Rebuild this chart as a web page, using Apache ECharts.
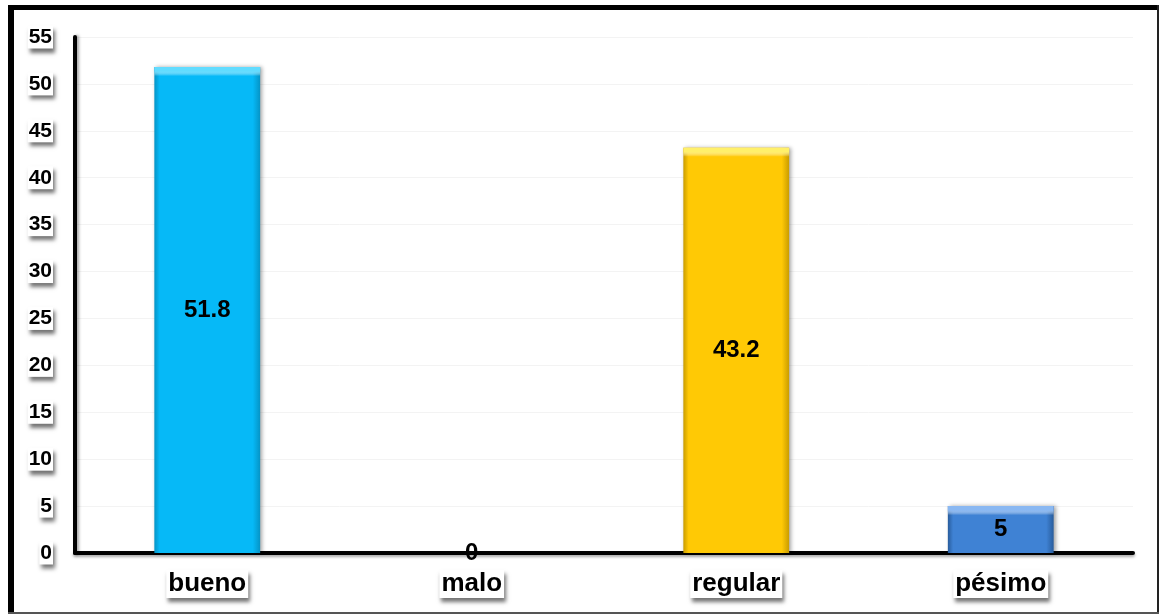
<!DOCTYPE html>
<html>
<head>
<meta charset="utf-8">
<script src="https://cdn.jsdelivr.net/npm/echarts@6/dist/echarts.min.js"></script>
<style>
  html, body { margin: 0; padding: 0; background: #ffffff; }
  #chart { width: 1161px; height: 615px; }
</style>
</head>
<body>
<div id="chart"></div>
<script>
// Survey result categories and their percentages
const categories = ['bueno', 'malo', 'regular', 'pésimo'];
const values = [51.8, 0, 43.2, 5];
const yTicks = [0, 5, 10, 15, 20, 25, 30, 35, 40, 45, 50, 55];

// Per-bar fills: [light edge, body, dark edge]
const barColors = [
  ['#62dcff', '#06b9f7', '#0594c6'],
  ['#9aa0a6', '#7f868c', '#5c6166'],
  ['#fff06a', '#ffc905', '#c99c00'],
  ['#8ab8f2', '#3f82d4', '#285c9c']
];

const Y_MAX = 55;
const PLOT_H = 516;          // grid height in px (615 - 37 - 62)
const BEVEL_PX = 9;          // thickness of the lit top edge

function barFill(c) {
  return {
    type: 'linear', x: 0, y: 0, x2: 1, y2: 0,
    colorStops: [
      { offset: 0, color: c[2] },
      { offset: 0.05, color: c[1] },
      { offset: 0.93, color: c[1] },
      { offset: 1, color: c[2] }
    ]
  };
}

function bevelFill(v, c) {
  const h = Math.max(v * PLOT_H / Y_MAX, 1);
  const f = Math.min(1, BEVEL_PX / h);
  return {
    type: 'linear', x: 0, y: 0, x2: 0, y2: 1,
    colorStops: [
      { offset: 0, color: c[0] },
      { offset: f * 0.45, color: c[0] },
      { offset: f, color: 'rgba(255,255,255,0)' },
      { offset: 1, color: 'rgba(255,255,255,0)' }
    ]
  };
}

const chart = echarts.init(document.getElementById('chart'), null, { renderer: 'canvas' });

const boxedLabel = {
  backgroundColor: '#ffffff',
  shadowColor: 'rgba(0,0,0,0.55)',
  shadowBlur: 4,
  shadowOffsetX: 2,
  shadowOffsetY: 4
};

chart.setOption({
  animation: false,
  backgroundColor: '#ffffff',
  graphic: [
    // outer frame: heavy left/top, thin right/bottom
    { type: 'rect', shape: { x: 8, y: 5, width: 6, height: 609 }, style: { fill: '#000' } },
    { type: 'rect', shape: { x: 8, y: 5, width: 1151, height: 5 }, style: { fill: '#000' } },
    { type: 'rect', shape: { x: 1157, y: 5, width: 2, height: 609 }, style: { fill: '#222' } },
    { type: 'rect', shape: { x: 8, y: 612, width: 1151, height: 2 }, style: { fill: '#555' } }
  ],
  grid: { left: 75, right: 28, top: 37, bottom: 62, containLabel: false },
  xAxis: {
    type: 'category',
    data: categories,
    axisTick: { show: false },
    axisLine: {
      show: true,
      lineStyle: { color: '#000', width: 4, shadowColor: 'rgba(0,0,0,0.35)', shadowBlur: 3, shadowOffsetY: 2 }
    },
    axisLabel: Object.assign({
      color: '#000',
      fontFamily: 'Liberation Sans, Arial, sans-serif',
      fontWeight: 'bold',
      fontSize: 26,
      margin: 17,
      padding: [1, 2, 1, 2]
    }, boxedLabel)
  },
  yAxis: {
    type: 'value',
    min: 0,
    max: Y_MAX,
    interval: 5,
    axisLine: {
      show: true,
      lineStyle: { color: '#000', width: 4, shadowColor: 'rgba(0,0,0,0.35)', shadowBlur: 3, shadowOffsetX: 2 }
    },
    axisTick: { show: false },
    splitLine: { show: true, lineStyle: { color: '#f3f3f3', width: 1 } },
    axisLabel: Object.assign({
      color: '#000',
      fontFamily: 'Liberation Sans, Arial, sans-serif',
      fontWeight: 'bold',
      fontSize: 21,
      margin: 22,
      padding: [1, 1, 1, 1],
      formatter: function (v) { return yTicks.indexOf(v) >= 0 ? String(v) : ''; }
    }, boxedLabel)
  },
  series: [{
    type: 'bar',
    barWidth: '40%',
    z: 2,
    data: values.map(function (v, i) {
      return {
        value: v,
        itemStyle: {
          color: barFill(barColors[i]),
          shadowColor: 'rgba(0,0,0,0.35)',
          shadowBlur: 4,
          shadowOffsetX: 2,
          shadowOffsetY: 0
        }
      };
    }),
    label: {
      show: true,
      position: 'inside',
      color: '#000',
      fontFamily: 'Liberation Sans, Arial, sans-serif',
      fontWeight: 'bold',
      fontSize: 24,
      formatter: function (p) { return String(p.value); }
    }
  }, {
    // lit bevel along the top edge of each bar
    type: 'bar',
    barWidth: '40%',
    barGap: '-100%',
    silent: true,
    z: 3,
    data: values.map(function (v, i) {
      return { value: v, itemStyle: { color: bevelFill(v, barColors[i]) } };
    }),
    label: { show: false }
  }]
});
</script>
</body>
</html>
